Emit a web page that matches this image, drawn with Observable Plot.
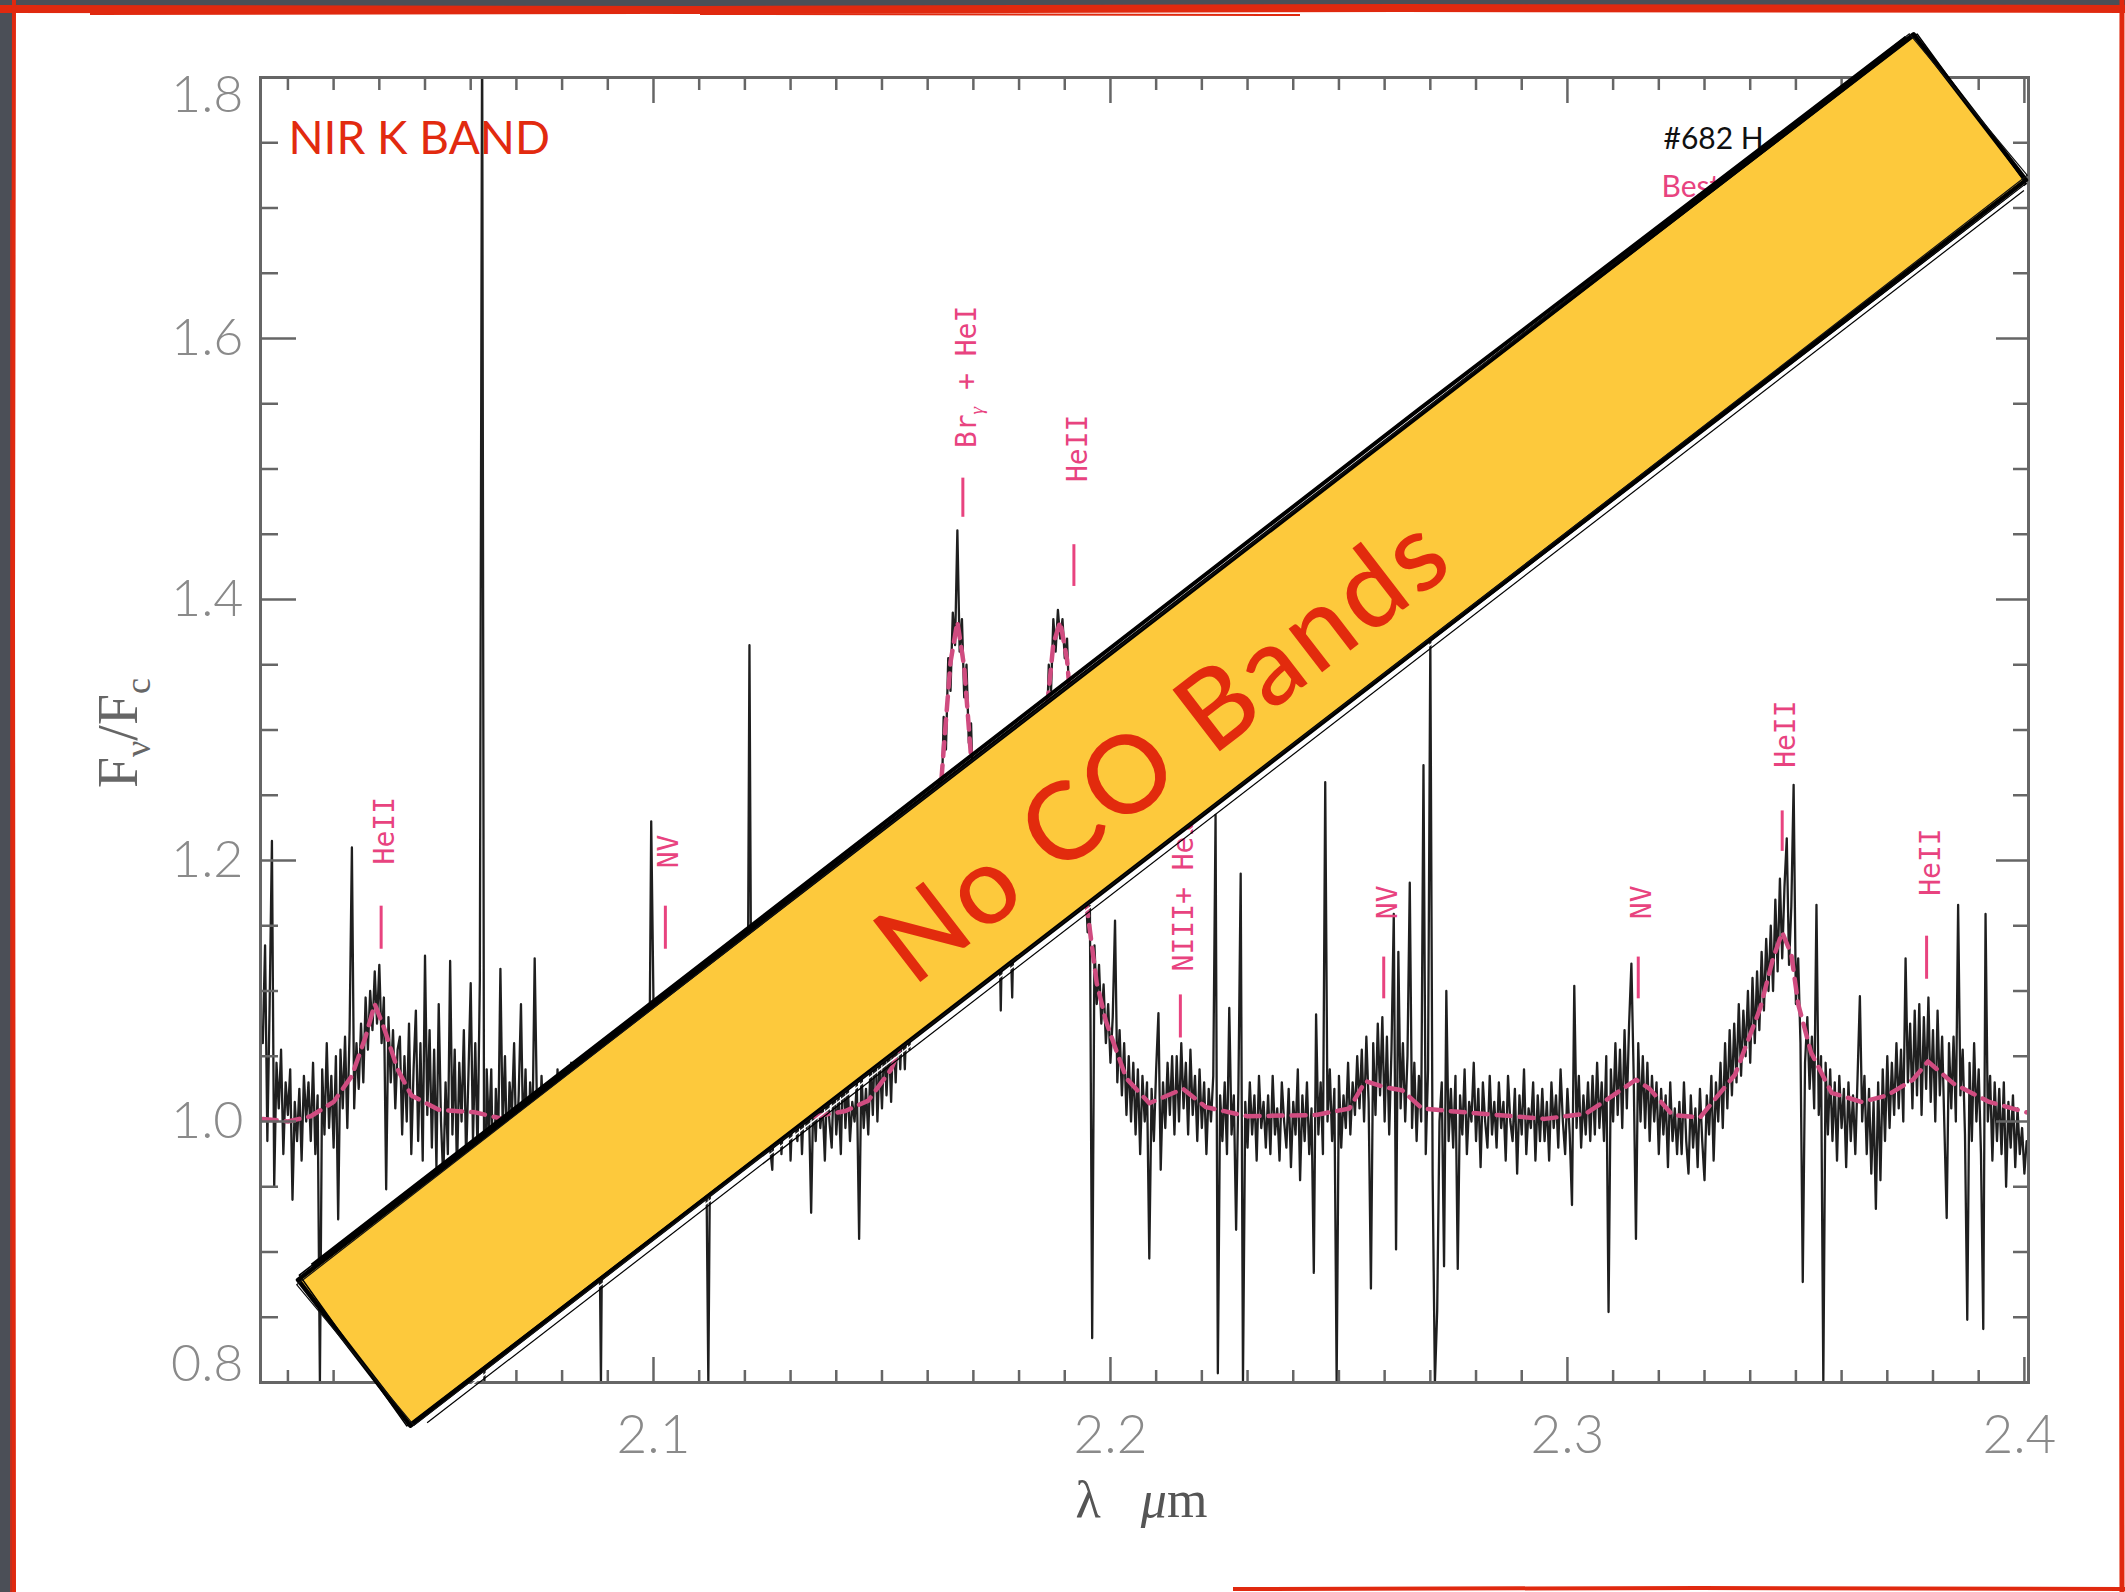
<!DOCTYPE html>
<html>
<head>
<meta charset="utf-8">
<script src="https://cdn.jsdelivr.net/npm/d3@7"></script>
<script src="https://cdn.jsdelivr.net/npm/@observablehq/plot@0.6"></script>
<style>
  html, body { margin: 0; padding: 0; }
  body { width: 2125px; height: 1592px; position: relative; overflow: hidden; background: #4b4f57; }
  #panel { position: absolute; left: 13px; top: 7px; width: 2112px; height: 1585px; background: #ffffff; }
  #chart { position: absolute; left: 0; top: 0; }
  .overlay { position: absolute; left: 0; top: 0; pointer-events: none; }
</style>
</head>
<body>
<div id="panel"></div>
<div id="chart"></div>
<svg class="overlay" id="edges" width="2125" height="1592"></svg>
<svg class="overlay" id="banner" width="2125" height="1592"></svg>
<script>
// ---- K-band spectrum: F_nu / F_c sampled every 0.0005 micron from 2.0145 micron ----
const lambdaStart = 2.0145;
const lambdaStep = 0.0005;
const flux = [
  1.060,1.135,0.985,1.090,1.215,0.950,1.045,1.010,1.055,0.975,1.030,1.005,1.040,0.940,1.015,0.985,1.025,0.970,1.035,1.000,
  1.030,0.985,1.045,0.975,1.020,0.800,1.040,0.990,1.060,0.995,1.035,0.980,1.050,0.925,1.055,1.010,1.065,0.995,1.070,1.210,
  1.010,1.060,1.025,1.075,1.030,1.095,1.055,1.100,1.070,1.115,1.075,1.120,1.060,1.095,0.948,1.080,1.030,1.070,1.010,1.055,
  1.065,0.990,1.050,1.000,1.075,0.975,1.040,1.085,0.985,1.060,0.970,1.127,1.005,1.070,0.980,1.055,0.965,1.090,1.000,0.955,
  1.030,0.975,1.123,0.990,1.055,0.960,1.045,1.000,1.070,0.970,1.035,1.106,0.985,1.060,0.975,1.108,1.850,0.800,1.040,0.990,
  1.040,0.926,1.025,0.980,1.117,0.995,1.050,0.965,1.030,1.005,1.060,0.975,1.020,1.090,0.985,1.040,0.960,1.030,0.990,1.125,
  1.010,0.975,1.035,0.990,1.020,0.965,1.030,1.005,0.980,1.040,0.995,1.025,0.970,1.015,0.985,1.045,0.990,1.010,0.975,1.030,
  0.985,1.025,0.970,1.035,1.000,0.980,1.020,0.990,0.800,1.030,0.975,1.015,1.040,0.985,1.010,0.965,1.025,0.995,1.035,0.980,
  1.020,0.975,1.030,0.995,1.010,0.970,1.040,0.985,1.025,0.990,1.230,1.090,0.980,1.035,1.000,0.975,1.020,0.990,1.030,0.965,
  1.015,0.985,1.035,0.975,1.025,1.000,0.970,1.030,0.990,1.045,0.980,1.010,0.965,1.020,0.995,0.800,1.030,0.985,1.015,0.975,
  1.025,0.990,1.035,0.970,1.010,1.040,0.985,1.020,0.975,1.030,0.995,1.015,0.980,1.365,1.005,0.970,1.025,0.990,1.040,0.985,
  1.010,1.030,0.980,0.963,1.025,0.995,1.040,0.975,1.015,0.990,1.035,0.970,1.020,1.000,0.985,1.030,0.975,1.025,0.995,1.015,
  0.930,1.025,0.985,1.035,0.995,1.015,0.970,1.030,1.000,0.980,1.040,0.990,1.020,0.975,1.050,0.995,1.030,0.985,1.015,1.000,
  1.030,0.910,1.040,0.995,1.025,0.990,1.045,1.005,1.070,1.000,1.050,1.010,1.060,1.020,1.065,1.015,1.075,1.030,1.080,1.040,
  1.085,1.040,1.095,1.055,1.105,1.070,1.120,1.085,1.135,1.100,1.150,1.125,1.180,1.150,1.215,1.190,1.262,1.235,1.310,1.285,
  1.355,1.330,1.390,1.365,1.453,1.360,1.385,1.325,1.350,1.290,1.305,1.240,1.270,1.215,1.245,1.195,1.225,1.180,1.215,1.170,
  1.200,1.150,1.195,1.085,1.190,1.140,1.210,1.160,1.095,1.185,1.150,1.205,1.165,1.215,1.175,1.230,1.195,1.250,1.215,1.270,
  1.275,1.250,1.315,1.290,1.350,1.330,1.385,1.360,1.392,1.370,1.385,1.355,1.370,1.320,1.330,1.270,1.285,1.220,1.230,1.175,
  1.190,1.145,1.165,0.834,1.135,1.090,1.120,1.075,1.105,1.060,1.090,1.045,1.080,1.154,1.030,1.070,1.020,1.060,1.005,1.050,
  1.000,1.045,0.990,1.040,0.975,1.035,1.000,1.030,0.895,1.025,0.985,1.040,1.083,0.963,1.030,0.995,1.045,1.005,1.050,0.990,
  1.050,1.000,1.060,1.010,1.045,0.990,1.055,1.005,1.035,0.985,1.040,0.995,1.030,0.975,1.025,1.000,1.035,1.235,0.807,1.020,
  0.985,1.030,0.975,1.087,0.990,1.020,0.917,1.025,1.190,0.800,1.015,0.980,1.030,0.990,1.020,0.970,1.035,0.995,1.015,0.980,
  1.020,0.975,1.035,0.990,1.010,0.970,1.030,1.000,0.980,1.025,0.965,1.015,0.990,1.040,0.955,1.020,0.985,1.030,0.975,1.010,
  0.884,1.082,0.990,1.030,0.975,1.260,1.000,1.040,0.985,1.025,0.800,1.035,0.980,1.020,0.995,1.045,0.990,1.030,1.005,1.050,
  1.010,1.055,1.000,1.065,1.015,0.872,1.060,1.005,1.075,1.020,1.080,1.000,1.065,0.990,1.055,1.159,0.902,1.130,1.010,1.060,
  1.000,1.050,1.183,0.995,1.045,0.985,1.035,1.000,1.273,0.975,1.040,1.370,0.960,0.800,0.855,1.000,1.030,0.889,1.100,0.985,
  1.025,0.980,1.035,0.887,1.020,0.990,1.040,0.975,1.015,1.000,1.045,0.985,1.025,0.965,1.030,1.000,0.980,1.035,0.990,1.015,
  0.980,1.030,0.995,1.015,0.970,1.035,1.000,0.985,1.025,0.960,1.020,0.990,1.040,0.975,1.010,0.995,1.030,0.970,1.020,0.985,
  1.025,0.985,1.015,0.970,1.030,0.995,1.020,0.980,1.040,1.000,0.975,1.025,0.990,0.936,1.104,0.995,1.035,0.980,1.020,0.990,
  1.030,0.985,1.035,0.990,1.045,0.995,1.030,0.985,1.050,0.854,1.040,1.000,1.060,1.005,1.055,0.995,1.070,1.010,1.075,1.121,
  1.035,0.910,1.060,1.000,1.050,0.995,1.045,0.985,1.035,1.000,1.030,0.975,1.025,0.990,1.020,0.965,1.030,0.985,1.010,0.975,
  1.015,0.975,1.030,0.985,0.960,1.020,0.980,1.010,0.965,1.025,0.985,0.955,1.020,0.990,1.035,0.970,1.030,1.000,1.045,0.995,
  1.060,1.010,1.070,1.020,1.075,1.030,1.090,1.035,1.085,1.050,1.100,1.045,1.110,1.060,1.115,1.070,1.130,1.085,1.140,1.100,
  1.150,1.100,1.170,1.115,1.186,1.125,1.180,1.217,1.120,1.165,1.258,1.090,1.125,1.060,0.877,1.045,1.080,1.025,1.065,1.010,
  1.166,1.005,1.050,0.800,1.045,0.990,1.040,0.985,1.030,0.970,1.035,0.995,1.025,0.965,1.030,0.985,1.020,0.975,1.035,1.096,
  1.000,1.035,0.975,1.025,0.960,1.015,0.933,1.030,0.955,1.040,0.985,1.050,0.995,1.045,1.005,1.060,1.010,1.055,1.000,1.125,
  1.030,1.075,1.010,1.085,1.020,1.090,1.005,1.080,1.025,1.095,1.015,1.070,1.000,1.085,1.020,1.065,0.995,0.926,1.060,1.010,
  1.065,1.000,1.166,1.020,1.055,0.990,0.848,1.045,0.985,1.060,1.000,1.040,0.975,0.841,1.159,1.000,1.035,0.970,1.030,0.985,
  1.025,0.975,1.030,0.950,1.015,0.980,1.020,0.965,1.010,0.975,0.995,0.960,0.985
];

// ---- best-fit model (dashed) ----
const modelLambda = [
  2.0145,2.020,2.025,2.030,2.034,2.037,2.039,2.041,2.044,2.047,2.053,2.061,2.067,2.075,2.085,2.095,2.105,2.115,2.125,2.134,
  2.142,2.147,2.152,2.1555,2.158,2.160,2.162,2.1635,2.165,2.1665,2.168,2.170,2.1725,2.176,2.180,2.183,2.1855,2.1875,2.189,2.1905,
  2.192,2.1935,2.195,2.197,2.199,2.201,2.2035,2.2085,2.2159,2.2209,2.230,2.245,2.2523,2.2558,2.2603,2.2638,2.2682,2.2741,2.2813,2.295,
  2.304,2.310,2.315,2.318,2.323,2.329,2.3367,2.3422,2.345,2.347,2.349,2.3505,2.3533,2.3578,2.3644,2.370,2.3756,2.3789,2.3845,2.3923,2.4005
];
const modelFlux = [
  1.002,1.000,1.004,1.015,1.035,1.065,1.090,1.072,1.040,1.020,1.009,1.007,1.002,1.000,0.998,1.000,1.002,1.003,1.003,1.003,
  1.008,1.016,1.040,1.070,1.104,1.146,1.214,1.285,1.352,1.383,1.348,1.256,1.205,1.180,1.190,1.230,1.295,1.366,1.383,1.354,
  1.290,1.210,1.160,1.106,1.077,1.057,1.033,1.014,1.025,1.011,1.004,1.005,1.010,1.031,1.026,1.024,1.010,1.008,1.006,1.002,
  1.006,1.020,1.032,1.025,1.005,1.003,1.036,1.087,1.125,1.145,1.128,1.090,1.053,1.022,1.015,1.020,1.032,1.046,1.029,1.015,1.007
];

// ---- line identifications ----
const markerLabel    = ["HeII", "NV", "Brγ + HeI", "HeII", "NIII+ HeI", "NV", "NV", "HeII", "HeII"];
const markerLambda   = [2.0404, 2.1026, 2.1677, 2.1920, 2.2153, 2.2598, 2.3155, 2.3470, 2.3786];
const markerLow      = [1.132, 1.132, 1.463, 1.410, 1.064, 1.094, 1.094, 1.207, 1.109];
const markerHigh     = [1.165, 1.165, 1.493, 1.442, 1.097, 1.126, 1.126, 1.238, 1.142];
const markerTextBase = [1.197, 1.194, 1.516, 1.490, 1.115, 1.155, 1.155, 1.271, 1.173];

// ---- axes ----
const xMajorTicks = [2.1, 2.2, 2.3, 2.4];
const yMajorTicks = [0.8, 1.0, 1.2, 1.4, 1.6, 1.8];
const xTickLabels = ["2.1", "2.2", "2.3", "2.4"];
const yTickLabels = ["0.8", "1.0", "1.2", "1.4", "1.6", "1.8"];
const xTitle = "λ  μm";
const yTitle = "Fν/Fc";

// ---- annotations ----
const bandText = "NIR K BAND";
const objectText = "#682 H";
const fitText = "Best fit";
const bannerText = "No CO Bands";

// ---------------------------------------------------------------------------
const spectrum = flux.map((f, i) => ({lambda: +(lambdaStart + i * lambdaStep).toFixed(4), flux: f}));
const model = modelLambda.map((l, i) => ({lambda: l, flux: modelFlux[i]}));
const markers = markerLabel.map((label, i) => ({
  label, lambda: markerLambda[i], low: markerLow[i], high: markerHigh[i], base: markerTextBase[i]
}));
const xMinor = d3.range(202, 241).map(v => v / 100).filter(v => !xMajorTicks.includes(v));
const yMinor = d3.range(17, 36).map(v => v / 20).filter(v => !yMajorTicks.includes(v));
const xLab = xMajorTicks.map((v, i) => ({v, t: xTickLabels[i]}));
const yLab = yMajorTicks.map((v, i) => ({v, t: yTickLabels[i]}));

const axisInk = "#666666";
const labelInk = "#8a8a8a";
const pink = "#e8437f";
const tickFont = "Lato, 'Liberation Sans', sans-serif";
const serif = "'Liberation Serif', 'DejaVu Serif', serif";
const hand = "Lato, 'Noto Sans', sans-serif";

const tickOpts = {tickFormat: () => "", stroke: axisInk, strokeWidth: 2.5, label: null};
const yLabelOpts = {y: "v", text: "t", frameAnchor: "left", dx: -17, textAnchor: "end", lineAnchor: "middle",
  fontFamily: tickFont, fontWeight: 300, fontSize: 52, fill: labelInk};
const xLabelOpts = {x: "v", text: "t", frameAnchor: "bottom", dy: 54, lineAnchor: "middle",
  fontFamily: tickFont, fontWeight: 300, fontSize: 53, fill: labelInk};

const chart = Plot.plot({
  width: 2125,
  height: 1592,
  marginLeft: 260,
  marginRight: 97,
  marginTop: 77,
  marginBottom: 210,
  style: {background: "transparent", overflow: "visible"},
  x: {domain: [2.014, 2.4009], axis: null},
  y: {domain: [0.8, 1.8], axis: null},
  marks: [
    Plot.line(spectrum, {x: "lambda", y: "flux", stroke: "#000", strokeWidth: 2.3, strokeOpacity: 0.88, clip: true}),
    Plot.line(model, {x: "lambda", y: "flux", stroke: "#d04c80", strokeWidth: 4.5, strokeDasharray: "14,9", clip: true}),

    Plot.ruleX(markers, {x: "lambda", y1: "low", y2: "high", stroke: pink, strokeWidth: 3}),
    Plot.text(markers, {x: "lambda", y: "base", text: "label", rotate: -90, textAnchor: "start", lineAnchor: "middle",
      dx: 4, fill: pink, fontFamily: "'DejaVu Sans Mono', 'Liberation Mono', monospace", fontSize: 28}),

    Plot.frame({stroke: axisInk, strokeWidth: 3}),
    Plot.axisX(xMinor, {anchor: "bottom", tickSize: -12, ...tickOpts}),
    Plot.axisX(xMajorTicks, {anchor: "bottom", tickSize: -25, ...tickOpts}),
    Plot.axisX(xMinor, {anchor: "top", tickSize: -12, ...tickOpts}),
    Plot.axisX(xMajorTicks, {anchor: "top", tickSize: -25, ...tickOpts}),
    Plot.axisY(yMinor, {anchor: "left", tickSize: -18, ...tickOpts}),
    Plot.axisY(yMajorTicks, {anchor: "left", tickSize: -36, ...tickOpts}),
    Plot.axisY(yMinor, {anchor: "right", tickSize: -16, ...tickOpts}),
    Plot.axisY(yMajorTicks, {anchor: "right", tickSize: -33, ...tickOpts}),

    // tick labels (the end labels sit just inside the frame)
    Plot.text(yLab.filter(d => d.v > 0.8 && d.v < 1.8), yLabelOpts),
    Plot.text(yLab.filter(d => d.v === 1.8), {...yLabelOpts, dy: 18}),
    Plot.text(yLab.filter(d => d.v === 0.8), {...yLabelOpts, dy: -18}),
    Plot.text(xLab.filter(d => d.v < 2.4), xLabelOpts),
    Plot.text(xLab.filter(d => d.v === 2.4), {...xLabelOpts, dx: -5}),

    // axis titles
    Plot.text([yTitle], {frameAnchor: "left", dx: -141, dy: 3, rotate: -90, textAnchor: "middle", lineAnchor: "middle",
      fontFamily: serif, fontSize: 56, fill: "#666"}),
    Plot.text([xTitle], {frameAnchor: "bottom", dx: -3, dy: 118, textAnchor: "middle", lineAnchor: "middle",
      fontFamily: serif, fontSize: 52, fill: "#555"}),

    // in-panel annotations
    Plot.text([bandText], {frameAnchor: "top-left", dx: 28, dy: 62, textAnchor: "start", lineAnchor: "middle",
      fontFamily: hand, fontSize: 46, fill: "#e22a0f", letterSpacing: 1}),
    Plot.text([objectText], {frameAnchor: "top-left", dx: 1403, dy: 62, textAnchor: "start", lineAnchor: "middle",
      fontFamily: hand, fontSize: 30, fill: "#111"}),
    Plot.text([fitText], {frameAnchor: "top-left", dx: 1401, dy: 110, textAnchor: "start", lineAnchor: "middle",
      fontFamily: hand, fontSize: 30, fill: pink})
  ]
});
document.getElementById("chart").append(chart);

// subscripts in the rotated flux-ratio title and the Br-gamma label
const root = d3.select(chart);
root.selectAll("text").filter(function () { return this.textContent === yTitle; }).each(function () {
  const t = d3.select(this).text(null);
  t.append("tspan").text("F");
  t.append("tspan").attr("dy", 13).attr("font-size", 36).text("ν");
  t.append("tspan").attr("dy", -13).text("/F");
  t.append("tspan").attr("dy", 13).attr("font-size", 36).text("c");
});
root.selectAll("text").filter(function () { return this.textContent === xTitle; }).each(function () {
  const t = d3.select(this).text(null);
  t.append("tspan").text("λ");
  t.append("tspan").attr("dx", 40).attr("font-style", "italic").text("μ");
  t.append("tspan").text("m");
});
root.selectAll("text").filter(function () { return this.textContent === "Brγ + HeI"; }).each(function () {
  const t = d3.select(this).text(null);
  t.append("tspan").text("Br");
  t.append("tspan").attr("dy", 7).attr("font-size", 19).attr("font-family", serif).attr("font-style", "italic").text("γ");
  t.append("tspan").attr("dy", -7).text(" + HeI");
});

// hand-drawn red slide edges
const edges = d3.select("#edges");
const red = "#e0290f";
[
  {d: "M0,9 L700,10 L1400,8 L2125,9", w: 8},
  {d: "M90,14 L640,13 M700,14 L1300,15", w: 2},
  {d: "M14,0 L13,600 L14,1592", w: 4},
  {d: "M11,200 L11,1592", w: 1.5},
  {d: "M2122,0 L2121,800 L2122,1592", w: 5},
  {d: "M1233,1589 L1700,1588 L2125,1589", w: 4}
].forEach(s => edges.append("path").attr("d", s.d).attr("fill", "none").attr("stroke", red).attr("stroke-width", s.w));

// diagonal banner
const banner = d3.select("#banner").append("g").attr("transform", "translate(1162,730) rotate(-37.63)");
banner.append("rect").attr("x", -1020).attr("y", -92).attr("width", 2040).attr("height", 184).attr("fill", "#fdc93c");
[
  {d: "M-1020,-92 L1020,-92 L1020,92 L-1020,92 Z", w: 4.5, c: "#000"},
  {d: "M-1016,-95 L1023,-90 L1018,95 L-1023,90 Z", w: 1.6, c: "#000"},
  {d: "M-1024,-89 L1017,-95 L1024,89 L-1017,94 Z", w: 1.2, c: "#111"},
  {d: "M-1000,-95 L400,-97 L1012,-94", w: 4, c: "#000"},
  {d: "M-1010,97 L1015,96", w: 1.5, c: "#fff"},
  {d: "M-1005,100 L1012,99", w: 1.2, c: "#000"}
].forEach(s => banner.append("path").attr("d", s.d).attr("fill", "none").attr("stroke", s.c)
  .attr("stroke-width", s.w).attr("stroke-linejoin", "round"));
banner.append("text").attr("x", -10).attr("y", 10).attr("text-anchor", "middle").attr("dominant-baseline", "central")
  .attr("font-family", hand).attr("font-weight", 500).attr("font-size", 108).attr("letter-spacing", 4)
  .attr("fill", "#e22b0d").text(bannerText);
</script>
</body>
</html>
